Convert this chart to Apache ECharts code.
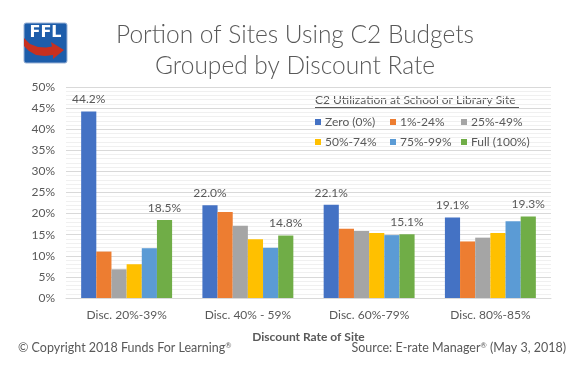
<!DOCTYPE html>
<html>
<head>
<meta charset="utf-8">
<style>
html,body{margin:0;padding:0;background:#fff;}
#c{width:579px;height:379px;}
</style>
<script src="https://cdn.jsdelivr.net/npm/echarts@6/dist/echarts.min.js"></script>
</head>
<body>
<div id="c"></div>
<script>
const categories = ['Disc. 20%-39%', 'Disc. 40% - 59%', 'Disc. 60%-79%', 'Disc. 80%-85%'];
const seriesNames = ['Zero (0%)', '1%-24%', '25%-49%', '50%-74%', '75%-99%', 'Full (100%)'];
const zero = [44.2, 22.0, 22.1, 19.1];
const p1to24 = [11.0, 20.4, 16.4, 13.4];
const p25to49 = [6.8, 17.1, 15.9, 14.3];
const p50to74 = [8.0, 13.9, 15.4, 15.4];
const p75to99 = [11.8, 11.9, 14.9, 18.2];
const full = [18.5, 14.8, 15.1, 19.3];
const colors = ['#4472C4', '#ED7D31', '#A5A5A5', '#FFC000', '#5B9BD5', '#70AD47'];
const labeled = [true, false, false, false, false, true];
const allValues = [zero, p1to24, p25to49, p50to74, p75to99, full];

const FONT = 'Lato, "Open Sans", sans-serif';
const GREY = '#595959';

const chart = echarts.init(document.getElementById('c'), null, {renderer: 'canvas'});

const legendPos = [
  [315, 116], [390, 116], [461, 116],
  [315, 136], [390, 136], [461, 136]
];

const legends = seriesNames.map((n, i) => ({
  data: [n],
  left: legendPos[i][0],
  top: legendPos[i][1],
  itemWidth: 6,
  itemHeight: 6,
  itemGap: 0,
  padding: 0,
  icon: 'rect',
  textStyle: {fontFamily: FONT, fontSize: 12, color: GREY, padding: [0, 0, 0, -1]},
  selectedMode: false
}));

const supRich = {
  n: {fontFamily: FONT, fontSize: 12.5, fill: GREY},
  s: {fontFamily: FONT, fontSize: 7.5, fill: GREY, verticalAlign: 'top'}
};

const option = {
  animation: false,
  color: colors,
  textStyle: {fontFamily: FONT},
  title: {
    text: 'Portion of Sites Using C2 Budgets\nGrouped by Discount Rate',
    left: 290,
    textAlign: 'center',
    top: 15,
    textStyle: {fontFamily: FONT, fontWeight: 300, fontSize: 24.5, color: GREY, lineHeight: 31}
  },
  legend: legends,
  grid: {left: 66, right: 28, top: 87, bottom: 81, containLabel: false},
  xAxis: {
    type: 'category',
    data: categories,
    axisLine: {show: true, lineStyle: {color: '#D9D9D9', width: 1}},
    axisTick: {show: false},
    axisLabel: {fontFamily: FONT, fontSize: 12, color: GREY, margin: 11},
    name: 'Discount Rate of Site',
    nameLocation: 'middle',
    nameGap: 33,
    nameTextStyle: {fontFamily: FONT, fontSize: 12, fontWeight: 'bold', color: GREY}
  },
  yAxis: {
    type: 'value',
    min: 0,
    max: 50,
    interval: 5,
    axisLine: {show: false},
    axisTick: {show: false},
    axisLabel: {fontFamily: FONT, fontSize: 12, color: GREY, margin: 11, formatter: v => v + '%'},
    splitLine: {show: true, lineStyle: {color: '#D9D9D9', width: 1}},
    minorTick: {show: false, splitNumber: 5},
    minorSplitLine: {show: true, lineStyle: {color: '#F0F0F0', width: 1}}
  },
  series: seriesNames.map((n, i) => ({
    name: n,
    type: 'bar',
    data: allValues[i],
    barGap: '0%',
    barCategoryGap: '25%',
    itemStyle: {color: colors[i]},
    label: {
      show: labeled[i],
      position: 'top',
      distance: 6,
      fontFamily: FONT,
      fontSize: 12,
      color: GREY,
      formatter: p => p.value.toFixed(1) + '%'
    }
  })),
  graphic: [
    {
      type: 'text', x: 315, y: 100,
      style: {text: 'C2 Utilization at School or Library Site', fontFamily: FONT, fontSize: 12, fill: GREY, verticalAlign: 'middle', align: 'left'}
    },
    {
      type: 'line', shape: {x1: 315, y1: 107.5, x2: 519, y2: 107.5},
      style: {stroke: GREY, lineWidth: 1}
    },
    {
      type: 'text', x: 18, y: 348,
      style: {text: '{n|© Copyright 2018 Funds For Learning}{s|®}', fontFamily: FONT, fontSize: 12.5, fill: GREY, rich: supRich, verticalAlign: 'middle', align: 'left'}
    },
    {
      type: 'text', x: 566, y: 348,
      style: {text: '{n|Source: E-rate Manager}{s|®}{n| (May 3, 2018)}', fontFamily: FONT, fontSize: 12.5, fill: GREY, rich: supRich, verticalAlign: 'middle', align: 'right'}
    },
    {
      type: 'rect', shape: {x: 24, y: 23, width: 43, height: 40, r: 2},
      style: {fill: '#1D5DAA', stroke: '#9BB3D6', lineWidth: 1}
    },
    {
      type: 'text', x: 45.5, y: 25,
      style: {text: 'FFL', fontFamily: '"DejaVu Sans", sans-serif', fontWeight: 'bold', fontSize: 16, fill: '#fff', align: 'center'}
    },
    {
      type: 'polygon',
      shape: {points: [[24, 38], [30, 44], [38, 47], [46, 47.5], [52, 46.5], [51, 42], [64, 50], [53, 59], [53, 55], [45, 56], [36, 55], [29, 51], [24, 46]]},
      style: {fill: '#C8301F'}
    }
  ]
};
chart.setOption(option);
</script>
</body>
</html>
